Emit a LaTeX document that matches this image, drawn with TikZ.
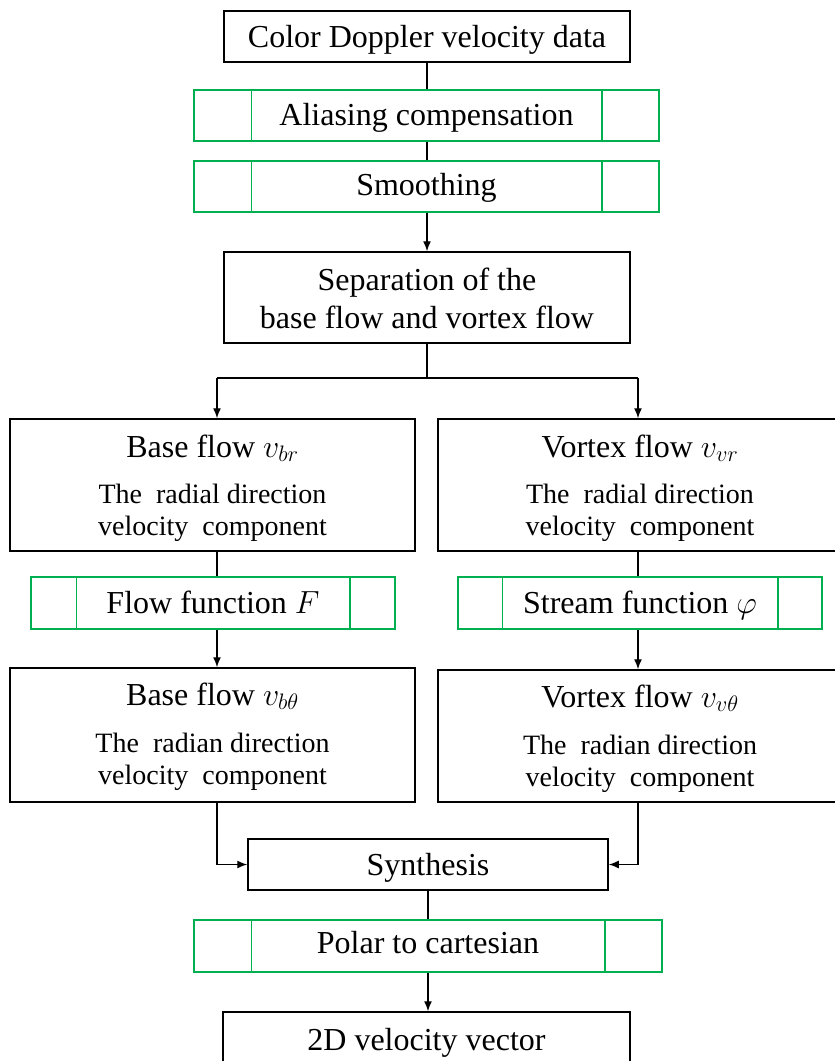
\RequirePackage{fix-cm}
\documentclass[tikz,border=0pt]{standalone}
\usepackage{fontspec}
\setmainfont{Liberation Serif}
\usetikzlibrary{arrows.meta}
\definecolor{boxgreen}{RGB}{0,176,80}
\begin{document}
\begin{tikzpicture}[x=1pt,y=-1pt,
  box/.style={draw=black, line width=1.5pt, inner sep=0pt},
  gbox/.style={draw=boxgreen, line width=1.5pt, inner sep=0pt},
  gline/.style={draw=boxgreen, line width=1.5pt},
  big/.style={font=\fontsize{32}{38}\selectfont, anchor=base, inner sep=0pt},
  small/.style={font=\fontsize{28}{33}\selectfont, anchor=base, inner sep=0pt},
  link/.style={line width=1.4pt},
  arr/.style={line width=1.4pt, -{Latex[length=10pt,width=8pt]}}]
\useasboundingbox (0,0) rectangle (835,1061);
\clip (0,0) rectangle (835,1061);

% boxes
\node[box, minimum width=406pt, minimum height=51pt] (cd) at (427,36.5) {};
\node[gbox, minimum width=465pt, minimum height=51pt] (al) at (426.5,115.5) {};
\node[gbox, minimum width=465pt, minimum height=51pt] (sm) at (426.5,186.5) {};
\node[box, minimum width=406pt, minimum height=91pt] (sep) at (427,297.5) {};
\node[box, minimum width=405pt, minimum height=132pt] (bl) at (212.5,485) {};
\node[box, minimum width=404pt, minimum height=132pt] (vr) at (640,485) {};
\node[gbox, minimum width=364pt, minimum height=52pt] (ff) at (213,603) {};
\node[gbox, minimum width=364pt, minimum height=52pt] (sf) at (640,603) {};
\node[box, minimum width=405pt, minimum height=134pt] (bt) at (212.5,735) {};
\node[box, minimum width=404pt, minimum height=132pt] (vt) at (640,736) {};
\node[box, minimum width=360pt, minimum height=51pt] (syn) at (428,864.5) {};
\node[gbox, minimum width=468pt, minimum height=52pt] (pc) at (428,946) {};
\node[box, minimum width=407pt, minimum height=64pt] (fin) at (426.5,1044) {};

% green dividers
\foreach \n/\d in {al/58, sm/58, pc/58, ff/46, sf/45}{
  \draw[gline] ([xshift=\d pt]\n.north west) -- ([xshift=\d pt]\n.south west);
  \draw[gline] ([xshift=-\d pt]\n.north east) -- ([xshift=-\d pt]\n.south east);
}

% texts
\node[big] (tcd) at (427,47) {Color Doppler velocity data};
\node[big] (tal) at (426.5,125) {Aliasing compensation};
\node[big] (tsm) at (426.5,195) {Smoothing};
\node[big] (tsep1) at (427,290) {Separation of the};
\node[big] (tsep2) at (427,328) {base flow and vortex flow};
\node[big] (tbl) at (212.5,457) {Base flow $v_{br}$};
\node[small] (tbl1) at (212.5,503) {The\ \ radial direction};
\node[small] (tbl2) at (212.5,535) {velocity\ \ component};
\node[big] (tvr) at (640,457) {Vortex flow $v_{vr}$};
\node[small] (tvr1) at (640,503) {The\ \ radial direction};
\node[small] (tvr2) at (640,535) {velocity\ \ component};
\node[big] (tff) at (213,613) {Flow function $F$};
\node[big] (tsf) at (640,613) {Stream function $\varphi$};
\node[big] (tbt) at (212.5,705) {Base flow $v_{b\theta}$};
\node[small] (tbt1) at (212.5,752) {The\ \ radian direction};
\node[small] (tbt2) at (212.5,784) {velocity\ \ component};
\node[big] (tvt) at (640,707) {Vortex flow $v_{v\theta}$};
\node[small] (tvt1) at (640,754) {The\ \ radian direction};
\node[small] (tvt2) at (640,786) {velocity\ \ component};
\node[big] (tsyn) at (428,875) {Synthesis};
\node[big] (tpc) at (428,953) {Polar to cartesian};
\node[big] (tfin) at (426.5,1050) {2D velocity vector};

% connectors
\coordinate (sl) at (217,378);
\coordinate (sr) at (638,378);
\draw[link] (cd.south) -- (cd.south |- al.north);
\draw[link] (cd.south |- al.south) -- (cd.south |- sm.north);
\draw[arr] (cd.south |- sm.south) -- (cd.south |- sep.north);
\draw[link] (sep.south) -- (sep.south |- sl);
\draw[link] (sl) -- (sr);
\draw[arr] (sl) -- (sl |- bl.north);
\draw[arr] (sr) -- (sr |- vr.north);
\draw[link] (sl |- bl.south) -- (sl |- ff.north);
\draw[link] (sr |- vr.south) -- (sr |- sf.north);
\draw[arr] (sl |- ff.south) -- (sl |- bt.north);
\draw[arr] (sr |- sf.south) -- (sr |- vt.north);
\draw[arr] (sl |- bt.south) |- (syn.west);
\draw[arr] (sr |- vt.south) |- (syn.east);
\draw[link] (syn.south) -- (syn.south |- pc.north);
\draw[arr] (syn.south |- pc.south) -- (syn.south |- fin.north);
\end{tikzpicture}
\end{document}
